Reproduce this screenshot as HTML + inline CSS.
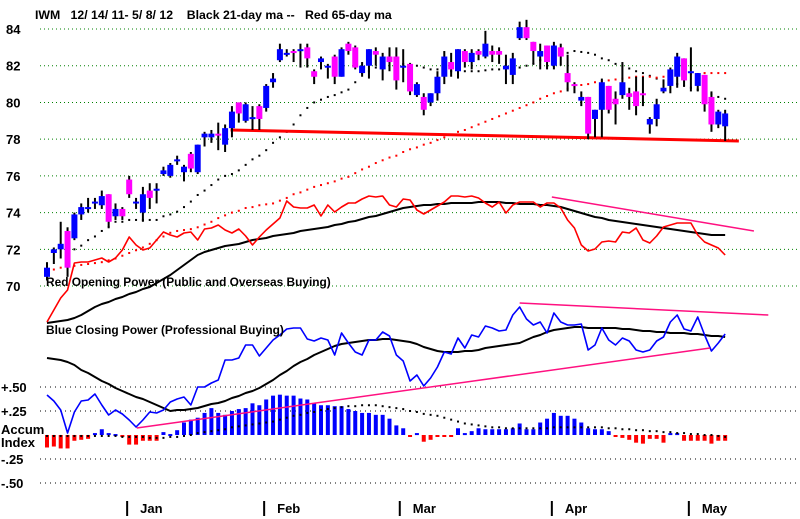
<!DOCTYPE html>
<html><head><meta charset="utf-8"><style>
html,body{margin:0;padding:0;background:#fff;}
svg{display:block;font-family:"Liberation Sans",Arial,sans-serif;font-weight:bold;}
</style></head><body>
<svg id="chart" width="800" height="519" viewBox="0 0 800 519" xmlns="http://www.w3.org/2000/svg">
<rect width="800" height="519" fill="#fff"/>
<text x="35" y="19" font-size="12.3">IWM&#160;&#160;&#160;12/ 14/ 11- 5/ 8/ 12&#160;&#160;&#160;&#160;Black 21-day ma --&#160;&#160;&#160;Red 65-day ma</text>
<g id="grid"></g><g id="labels"></g><g id="marks"></g>
<text x="46" y="286" font-size="11.9">Red Opening Power (Public and Overseas Buying)</text>
<text x="46" y="334" font-size="11.9">Blue Closing Power (Professional Buying)</text>
<text x="1" y="434" font-size="13">Accum</text>
<text x="1" y="447" font-size="13">Index</text>
</svg>
<script>
const priceTicks=[84,82,80,78,76,74,72,70];
const accTicks=[0.5,0.25,-0.25,-0.5];
const accTickLabels=["+.50","+.25","-.25","-.50"];
const months=["Jan","Feb","Mar","Apr","May"];
const monthDay=[11.7,31.7,51.5,73.7,93.7];
const opens=[70.5,71.8,72,73,72.6,73.9,74.3,74.5,74.4,75,73.8,74.2,75.8,74.5,74,75.2,75.2,76.1,76,76.9,76.2,77.2,76.2,78.1,78.1,78.3,77.7,78.6,80,79,79.2,79.8,79.7,81.1,82.3,82.6,82.8,82.8,83,81.7,82.2,82,82.5,81.4,83.2,83,81.6,82,82.8,81.8,82.5,82.5,
81.9,82.1,80.4,80.3,80,80.5,81.4,82.2,81.7,82.8,82.2,82.8,82.5,82.8,82.8,81.8,81.5,83.5,84.1,83.3,82.5,83.1,82,83,81.6,81,80.1,80.3,79.1,79.6,80.9,80.2,80.4,80.5,80.6,80.5,78.8,79.1,80.6,80.9,81.4,82.4,81.7,80.9,81.5,80.3,78.8,78.7];
const closes=[71,72,72.3,71,73.9,74.3,74.3,74.6,74.9,73.5,74.2,73.8,75,74.6,75,74.8,75.3,76.3,76.6,76.9,76.5,76.4,77.7,78.3,78.3,78.2,78.6,79.5,79.4,79.9,79.2,79.1,80.9,81.3,82.9,82.7,82.7,82.9,82.4,81.4,82.4,82,81.4,82.9,82.8,81.9,82,82.9,82.6,82.5,82.2,81.2,
82,80.6,81,79.6,80.5,81.4,82.5,81.8,82.9,82.2,82.7,82.6,83.2,82.6,82.6,82,82.4,84.1,83.5,82.8,82.8,82.2,83.1,82.5,81.1,80.9,80.3,78.3,79.6,81.1,79.6,79.9,81.1,80.3,79.8,80.4,79.1,79.9,80.8,81.8,82.5,81.2,81.7,81.6,79.9,78.8,79.5,79.4];
const highs=[71.3,72.1,73.5,73.2,74,74.5,74.8,74.8,75.2,75,74.5,74.3,76,74.8,75.4,75.6,75.6,76.5,76.7,77.1,76.6,77.3,77.7,78.4,78.5,78.9,78.8,79.8,80,80,79.8,79.9,81,81.6,83.2,82.9,82.9,83.2,83.2,81.8,82.5,82.1,82.6,83,83.3,83.1,82.2,82.9,83,82.7,83,83,
82.9,82.1,81.1,80.5,80.5,81.7,82.8,82.7,82.9,82.9,82.9,82.9,83.9,83.1,83,82.6,82.7,84.4,84.5,83.3,83.2,83.1,83.3,83.2,82.6,81.1,80.6,80.3,79.6,81.3,80.9,80.6,82.2,80.8,81.4,81.4,79.2,80.2,81.2,81.9,82.7,82.4,83,81.6,81.5,80.6,79.6,79.6];
const lows=[70.3,71.2,71.5,70.5,72.5,73.6,74,74.2,74.2,73.2,73.6,73.6,74.8,74.2,73.5,74.2,74.5,76,75.9,76.6,75.7,76.2,76.1,77.6,77.8,77.4,77.3,78.1,78.9,78.9,78.5,78.5,79.5,80.8,82.2,82.5,82.2,81.9,81.9,81,81.8,81.3,81,81.4,82.6,81.8,81.4,81.3,82,81.2,81.7,80.7,
81.1,80.4,80.3,79.3,79.8,80.1,81,81.4,81.3,81.9,81.8,82.3,82.4,82.2,82.1,81,81,83.4,83.4,82.1,81.8,81.8,81.8,82,80.6,80.5,79.8,78,78.1,78.1,79.4,78.8,80.2,79.6,79.3,79.8,78.3,78.7,80.5,80.5,80.8,80.9,80.6,80.6,79.5,78.4,78.6,77.9];
const ma21=[null,null,null,71.8,72.0,72.2,72.5,72.7,73.0,73.2,73.5,73.5,73.6,73.6,73.6,73.6,73.6,73.8,73.9,74.05,74.3,74.6,74.96,75.2,75.5,75.8,76.0,76.1,76.3,76.6,76.9,77.1,77.4,77.8,78.1,78.4,78.8,79.3,79.7,80.0,80.15,80.3,80.4,80.55,80.7,81.1,81.6,81.7,81.9,82.0,82.0,82.1,82.1,82.1,82.0,81.9,81.8,81.8,81.7,81.7,81.7,81.7,81.7,81.7,81.75,81.8,81.8,81.85,81.9,81.9,82.0,82.1,82.3,82.4,82.5,82.6,82.7,82.8,82.75,82.7,82.6,82.4,82.3,82.1,82.0,81.85,81.7,81.6,81.45,81.3,81.2,81.1,81.0,80.9,80.8,80.7,80.6,80.45,80.3,80.2];
const ma65=[70.8,70.9,71.0,71.05,71.1,71.15,71.2,71.25,71.3,71.4,71.5,71.65,71.8,71.95,72.1,72.3,72.5,72.7,72.9,73.0,73.05,73.1,73.2,73.35,73.5,73.7,73.85,74.0,74.1,74.25,74.3,74.4,74.45,74.5,74.65,74.8,75.0,75.1,75.25,75.4,75.5,75.6,75.7,75.85,75.95,76.15,76.35,76.5,76.7,76.85,77.0,77.1,77.3,77.45,77.55,77.7,77.8,77.95,78.1,78.25,78.4,78.5,78.65,78.8,78.95,79.1,79.25,79.4,79.55,79.7,79.85,80.0,80.2,80.35,80.5,80.6,80.75,80.86,80.95,81.0,81.1,81.15,81.2,81.25,81.3,81.35,81.4,81.4,81.4,81.35,81.4,81.45,81.5,81.5,81.55,81.55,81.6,81.6,81.6,81.6];
const supportLine=[[26.8,78.5],[101,77.9]];
const opRed=[18,30,42,50,77,78,78,80,82,78,82,90,103,95,90,92,100,108,105,103,107,108,100,111,112,115,110,107,111,104,95,103,110,116,122,139,133,132,132,135,124,135,128,133,137,137,141,144,143,144,135,133,141,140,130,126,130,134,138,144,144,143,144,142,137,133,138,127,135,138,138,138,133,137,137,132,120,112,95,89,91,98,99,98,108,107,112,100,97,104,113,115,117,117,117,105,98,95,92,85];
const opMa=[17,18,19,20,22,25,29,33,36,38,41,43,46,48,51,53,57,61,65,70,75,80,85,88,90,92,94,95,96,98,100,101,102,104,105,106,107,109,110,111,112,113,115,116,118,119,121,123,124,126,128,130,132,133,134,135,135,136,136,137,137,137,137,138,138,138,138,137,137,136,136,136,135,135,134,133,131,129,127,125,123,122,120,119,118,117,116,115,114,113,112,111,110,109,108,107,106,105,105,105];
const opTrend=[[73.7,143],[103.2,109]];
const cp=[45,39,30,7,28,39,40,46,35,25,30,26,20,13,20,28,27,30,38,41,43,35,53,53,57,60,80,80,82,95,95,84,92,100,105,111,112,112,101,99,102,100,85,107,97,88,85,100,100,108,104,85,79,59,65,54,62,73,88,86,102,92,105,103,114,112,109,110,125,133,121,115,118,107,127,118,115,115,116,90,95,112,100,95,102,99,90,88,90,99,103,118,125,111,109,123,105,89,97,106];
const cpMa=[82,81,80,78,75,70,67,63,59,56,52,49,46,43,41,38,35,32,29,30,30,31,32,34,36,37,39,42,44,47,49,52,56,60,65,69,74,78,81,85,88,91,94,96,97,98,99,100,100,101,101,100,99,98,96,93,91,89,88,88,88,89,89,90,92,93,94,95,96,97,100,103,105,108,110,111,112,113,113,112,112,112,112,112,111,111,110,109,109,108,108,107,107,107,106,106,105,104,104,103];
const cpTrendLow=[[13.1,12],[96.8,92]];
const cpTrendHigh=[[69.0,137],[105.3,125]];
const accum=[-.13,-.12,-.14,-.14,-.06,-.05,-.04,.02,.06,.02,.01,-.01,-.10,-.10,-.06,-.06,-.06,.03,.01,.05,
.13,.16,.18,.23,.28,.23,.21,.25,.27,.28,.33,.31,.37,.41,.42,.41,.41,.38,.37,.33,.31,.31,.30,.30,.27,.25,.23,.23,.21,.21,.17,.10,
.07,-.02,.02,-.07,-.05,-.02,-.02,-.02,.07,.02,.04,.07,.06,.06,.06,.06,.07,.12,.06,.06,.13,.17,.23,.20,.20,.17,.13,.07,.06,.06,.04,-.02,-.03,-.05,-.08,-.09,-.04,-.04,-.08,.02,.02,-.06,-.06,-.06,-.06,-.09,-.06,-.06];
const accMa=[-.01,-.01,-.01,-.01,-.01,-.01,-.01,-.01,-.01,-.01,-.01,-.02,-.02,-.02,-.02,-.03,-.03,-.03,-.02,-.02,-.01,0,.02,.03,.04,.05,.06,.08,.09,.10,.11,.12,.13,.14,.16,.18,.20,.21,.23,.24,.26,.27,.28,.29,.30,.30,.31,.31,.31,.30,.29,.28,.27,.25,.24,.22,.21,.20,.18,.16,.14,.12,.11,.10,.09,.08,.08,.07,.07,.07,.07,.07,.07,.07,.08,.08,.08,.08,.08,.08,.08,.08,.07,.07,.06,.06,.05,.05,.04,.04,.03,.03,.02,.02,.01,.01,0,0,-.01,-.02];

const NS="http://www.w3.org/2000/svg";
const X=i=>47+i*6.85;
const PY=p=>29+(84-p)*18.36;
const OY=v=>340-v;
const CY=v=>440-v;
const AY=v=>435-v*96;
function mk(tag,attrs,parent){const e=document.createElementNS(NS,tag);for(const k in attrs)e.setAttribute(k,attrs[k]);parent.appendChild(e);return e;}
const grid=document.getElementById('grid'),labels=document.getElementById('labels'),marks=document.getElementById('marks');

priceTicks.forEach(p=>{
  const l=mk('line',{x1:40,x2:800,y1:PY(p),y2:PY(p),stroke:'#008000','stroke-width':1,'stroke-dasharray':'1 3'},grid);
  
  
  const t=mk('text',{x:6,y:PY(p)+5,'font-size':13},labels);t.textContent=p;
  
  
});
accTicks.forEach((v,k)=>{
  const l=mk('line',{x1:40,x2:800,y1:AY(v),y2:AY(v),stroke:'#000','stroke-width':1,'stroke-dasharray':'1 4'},grid);
  
  
  const t=mk('text',{x:1,y:AY(v)+5,'font-size':13},labels);t.textContent=accTickLabels[k];
  
  
});
months.forEach((m,k)=>{
  const x=X(monthDay[k]);
  const l=mk('line',{x1:x,x2:x,y1:501,y2:516,stroke:'#000','stroke-width':2},labels);
  
  
  const t=mk('text',{x:x+13,y:513,'font-size':13},labels);t.textContent=m;
  
  
});

function dots(arr,yf,color,name){
  arr.forEach((v,i)=>{if(v===null)return;
    const d=mk('rect',{x:X(i)-1,y:yf(v)-1,width:2,height:2,fill:color},marks);
    
    
  });
}
function line(arr,yf,color,w,name){
  const pts=arr.map((v,i)=>X(i)+','+yf(v)).join(' ');
  const p=mk('polyline',{points:pts,fill:'none',stroke:color,'stroke-width':w,'stroke-linejoin':'round'},marks);
  
  
}
function seg(s,yf,color,w,name){
  const p=mk('line',{x1:X(s[0][0]),y1:yf(s[0][1]),x2:X(s[1][0]),y2:yf(s[1][1]),stroke:color,'stroke-width':w},marks);
  
  
}

accum.forEach((v,i)=>{
  const y0=AY(0),y1=AY(v);
  const b=mk('rect',{x:X(i)-2,y:Math.min(y0,y1),width:4,height:Math.max(2,Math.abs(y1-y0)),fill:v>=0?'#0000ff':'#ff0000'},marks);
  
  
});
dots(accMa,AY,'#000','accum-ma-dot');

line(opMa,OY,'#000',2,'opening-power-ma');
line(opRed,OY,'#ff0000',1.6,'opening-power-line');
seg(opTrend,OY,'#ff1080',1.5,'opening-power-trendline');

line(cpMa,CY,'#000',2,'closing-power-ma');
line(cp,CY,'#0000ff',1.6,'closing-power-line');
seg(cpTrendLow,CY,'#ff1080',1.5,'closing-power-support-trendline');
seg(cpTrendHigh,CY,'#ff1080',1.5,'closing-power-resistance-trendline');

dots(ma21,PY,'#000','ma21-dot');
dots(ma65,PY,'#ff0000','ma65-dot');
seg(supportLine,PY,'#ff0000',3,'price-support-line');

closes.forEach((c,i)=>{
  const o=opens[i],x=X(i);
  const w=mk('line',{x1:x,x2:x,y1:PY(highs[i]),y2:PY(lows[i]),stroke:'#000','stroke-width':2},marks);
  
  
  const top=PY(Math.max(o,c)),bot=PY(Math.min(o,c));
  const b=mk('rect',{x:x-3,y:top,width:6,height:Math.max(2,bot-top),fill:c>=o?'#0000ff':'#ff00ff'},marks);
  
  
});
</script>
</body></html>
